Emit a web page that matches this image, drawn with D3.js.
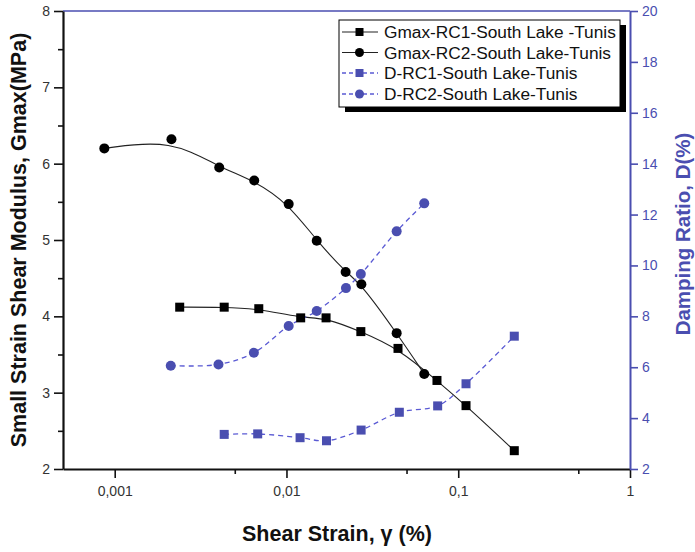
<!DOCTYPE html>
<html>
<head>
<meta charset="utf-8">
<script src="https://cdn.jsdelivr.net/npm/d3@7"></script>
<style>
  body { margin: 0; background: #fff; }
  svg { font-family: Arial, "Liberation Sans", sans-serif; }
</style>
</head>
<body>
<svg id="chart" width="695" height="552"></svg>
<script>
"use strict";

// values
var strainRC1 = [0.00239, 0.00434, 0.0069, 0.0121, 0.0170, 0.0271, 0.0446, 0.0752, 0.111, 0.212];
var gmaxRC1 = [4.12, 4.12, 4.10, 3.98, 3.98, 3.80, 3.58, 3.16, 2.83, 2.24];
var strainRC2 = [0.00087, 0.00214, 0.00406, 0.00649, 0.0103, 0.0150, 0.0221, 0.0273, 0.0438, 0.0634];
var gmaxRC2 = [6.20, 6.32, 5.95, 5.78, 5.47, 4.99, 4.58, 4.42, 3.78, 3.245];
var strainDRC1 = [0.00434, 0.0068, 0.0120, 0.0171, 0.0272, 0.0454, 0.0759, 0.111, 0.212];
var dampRC1 = [3.36, 3.38, 3.23, 3.11, 3.53, 4.23, 4.48, 5.35, 7.22];
var strainDRC2 = [0.00212, 0.00402, 0.00646, 0.0103, 0.0150, 0.0222, 0.0271, 0.0438, 0.0634];
var dampRC2 = [6.06, 6.11, 6.57, 7.62, 8.21, 9.11, 9.66, 11.34, 12.44];

var xTicks = [0.001, 0.01, 0.1, 1];
var xTickLabels = ["0,001", "0,01", "0,1", "1"];
var xMinor = [0.005, 0.05, 0.5];
var leftTicks = [2, 3, 4, 5, 6, 7, 8];
var leftMinor = [2.5, 3.5, 4.5, 5.5, 6.5, 7.5];
var rightTicks = [2, 4, 6, 8, 10, 12, 14, 16, 18, 20];
var legendLabels = ["Gmax-RC1-South Lake -Tunis", "Gmax-RC2-South Lake-Tunis",
                    "D-RC1-South Lake-Tunis", "D-RC2-South Lake-Tunis"];

var plotL = 63, plotR = 630, plotT = 11, plotB = 469;
var blue = "#4a4eb0", blueLine = "#5a5ad4";

var svg = d3.select("#chart");

var x = d3.scaleLog().domain([0.0005, 1]).range([plotL, plotR]);
var yL = d3.scaleLinear().domain([2, 8]).range([plotB, plotT]);
var yR = d3.scaleLinear().domain([2, 20]).range([plotB, plotT]);

function zip(xs, ys) {
  return xs.map(function(v, i) { return [v, ys[i]]; });
}

// frame: top line blue
svg.append("line")
  .attr("x1", plotL).attr("x2", plotR).attr("y1", plotT).attr("y2", plotT)
  .attr("stroke", blue).attr("stroke-width", 1.5);

// bottom axis
var gx = svg.append("g").attr("transform", "translate(0," + plotB + ")");
gx.call(d3.axisBottom(x).tickValues(xTicks).tickSize(9).tickSizeOuter(0)
  .tickFormat(function(d, i) { return xTickLabels[i]; }));
gx.append("g").call(d3.axisBottom(x).tickValues(xMinor).tickSize(5).tickFormat(""))
  .select(".domain").remove();
gx.selectAll("path.domain").attr("stroke", "#111").attr("stroke-width", 2.2);
gx.selectAll(".tick line").attr("stroke", "#111").attr("stroke-width", 1.6);
gx.selectAll(".tick text").attr("font-size", 14).attr("fill", "#333").attr("dy", "1.1em");

// left axis
var gy = svg.append("g").attr("transform", "translate(" + plotL + ",0)");
gy.call(d3.axisLeft(yL).tickValues(leftTicks).tickSize(9).tickSizeOuter(0).tickFormat(d3.format("d")));
gy.append("g").call(d3.axisLeft(yL).tickValues(leftMinor).tickSize(5).tickFormat(""))
  .select(".domain").remove();
gy.selectAll("path.domain").attr("stroke", "#111").attr("stroke-width", 2.2);
gy.selectAll(".tick line").attr("stroke", "#111").attr("stroke-width", 1.6);
gy.selectAll(".tick text").attr("font-size", 14).attr("fill", "#333").attr("x", -13);

// right axis
var gr = svg.append("g").attr("transform", "translate(" + plotR + ",0)");
gr.call(d3.axisRight(yR).tickValues(rightTicks).tickSize(8).tickSizeOuter(0).tickFormat(d3.format("d")));
gr.selectAll("path.domain").attr("stroke", blue).attr("stroke-width", 2);
gr.selectAll(".tick line").attr("stroke", blue).attr("stroke-width", 1.6);
gr.selectAll(".tick text").attr("font-size", 14).attr("fill", blue).attr("x", 12);

// lines
var lineL = d3.line().x(function(d) { return x(d[0]); }).y(function(d) { return yL(d[1]); })
  .curve(d3.curveBasis);
var lineR = d3.line().x(function(d) { return x(d[0]); }).y(function(d) { return yR(d[1]); })
  .curve(d3.curveCatmullRom.alpha(0.5));

svg.append("path").attr("d", lineL(zip(strainRC1, gmaxRC1)))
  .attr("fill", "none").attr("stroke", "#222").attr("stroke-width", 1.1);
svg.append("path").attr("d", lineL(zip(strainRC2, gmaxRC2)))
  .attr("fill", "none").attr("stroke", "#222").attr("stroke-width", 1.1);
svg.append("path").attr("d", lineR(zip(strainDRC1, dampRC1)))
  .attr("fill", "none").attr("stroke", blueLine).attr("stroke-width", 1.3)
  .attr("stroke-dasharray", "5,4");
svg.append("path").attr("d", lineR(zip(strainDRC2, dampRC2)))
  .attr("fill", "none").attr("stroke", blueLine).attr("stroke-width", 1.3)
  .attr("stroke-dasharray", "5,4");

// markers
svg.append("g").selectAll("rect").data(zip(strainRC1, gmaxRC1)).enter().append("rect")
  .attr("x", function(d) { return x(d[0]) - 4.5; })
  .attr("y", function(d) { return yL(d[1]) - 4.5; })
  .attr("width", 9).attr("height", 9).attr("fill", "#000");
svg.append("g").selectAll("circle").data(zip(strainRC2, gmaxRC2)).enter().append("circle")
  .attr("cx", function(d) { return x(d[0]); })
  .attr("cy", function(d) { return yL(d[1]); })
  .attr("r", 5).attr("fill", "#000");
svg.append("g").selectAll("rect").data(zip(strainDRC1, dampRC1)).enter().append("rect")
  .attr("x", function(d) { return x(d[0]) - 4.5; })
  .attr("y", function(d) { return yR(d[1]) - 4.5; })
  .attr("width", 9).attr("height", 9).attr("fill", blue);
svg.append("g").selectAll("circle").data(zip(strainDRC2, dampRC2)).enter().append("circle")
  .attr("cx", function(d) { return x(d[0]); })
  .attr("cy", function(d) { return yR(d[1]); })
  .attr("r", 5).attr("fill", blue);

// legend
var lg = svg.append("g");
lg.append("rect").attr("x", 345).attr("y", 25).attr("width", 281).attr("height", 87).attr("fill", "#000");
lg.append("rect").attr("x", 339).attr("y", 20).attr("width", 281).attr("height", 87)
  .attr("fill", "#fff").attr("stroke", "#000").attr("stroke-width", 1);
var rowY = [32, 52.5, 73, 94];
legendLabels.forEach(function(t, i) {
  var y = rowY[i];
  var isD = i >= 2;
  lg.append("line").attr("x1", 342).attr("x2", 378).attr("y1", y).attr("y2", y)
    .attr("stroke", isD ? blueLine : "#222").attr("stroke-width", isD ? 1.3 : 1.1)
    .attr("stroke-dasharray", isD ? "4,3" : null);
  if (i % 2 === 0) {
    lg.append("rect").attr("x", 355.5).attr("y", y - 4).attr("width", 8).attr("height", 8)
      .attr("fill", isD ? blue : "#000");
  } else {
    lg.append("circle").attr("cx", 359.5).attr("cy", y).attr("r", 4.5)
      .attr("fill", isD ? blue : "#000");
  }
  lg.append("text").attr("x", 384).attr("y", y + 6).attr("font-size", 17.3).attr("fill", "#111").text(t);
});

// axis titles
svg.append("text").attr("x", 337).attr("y", 541).attr("text-anchor", "middle")
  .attr("font-size", 21.5).attr("font-weight", "bold").attr("fill", "#111")
  .text("Shear Strain, \u03b3 (%)");
svg.append("text").attr("transform", "translate(26,240) rotate(-90)").attr("text-anchor", "middle")
  .attr("font-size", 21.5).attr("font-weight", "bold").attr("fill", "#111")
  .text("Small Strain Shear Modulus, Gmax(MPa)");
svg.append("text").attr("transform", "translate(690,234) rotate(-90)").attr("text-anchor", "middle")
  .attr("font-size", 20.5).attr("font-weight", "bold").attr("fill", blue)
  .text("Damping Ratio, D(%)");
</script>
</body>
</html>
